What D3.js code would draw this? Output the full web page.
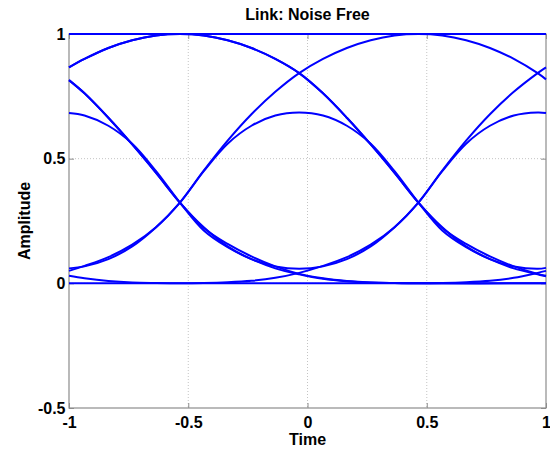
<!DOCTYPE html>
<html>
<head>
<meta charset="utf-8">
<script src="https://cdn.jsdelivr.net/npm/d3@7"></script>
<style>
  html, body { margin: 0; padding: 0; background: #fff; }
  svg { display: block; }
  text { font-family: "Liberation Sans", Arial, Helvetica, sans-serif; font-weight: bold; fill: #000; }
</style>
</head>
<body>
<div id="chart"></div>
<script>
// ---------- data ----------
const title = "Link: Noise Free";
const xLabel = "Time";
const yLabel = "Amplitude";
const timeDomain = [-1, 1];
const ampDomain = [-0.5, 1];
const xTicks = [-1, -0.5, 0, 0.5, 1];
const xTickLabels = ["-1", "-0.5", "0", "0.5", "1"];
const yTicks = [-0.5, 0, 0.5, 1];
const yTickLabels = ["-0.5", "0", "0.5", "1"];
const xGrid = [-0.5, 0, 0.5];
const yGrid = [0, 0.5];

// each trace: [time, amplitude]
const traceHigh = [[-1, 1], [1, 1]];
const traceLow = [[-1, 0], [1, 0]];
const traceArcA = [[-1,0.866],[-0.935,0.9],[-0.835,0.944],[-0.735,0.975],[-0.635,0.994],[-0.535,1.0],[-0.435,0.994],[-0.335,0.975],[-0.235,0.944],[-0.135,0.9],[-0.035,0.843],[0.065,0.762],[0.165,0.664],[0.265,0.557],[0.365,0.443],[0.465,0.324],[0.565,0.222],[0.665,0.158],[0.765,0.108],[0.865,0.068],[0.965,0.038],[1,0.03]];
const traceArcA2 = [[-1,0.866],[-0.935,0.9],[-0.835,0.944],[-0.735,0.975],[-0.635,0.994],[-0.535,1.0],[-0.435,0.994],[-0.335,0.975],[-0.235,0.944],[-0.135,0.9],[-0.035,0.843],[0.065,0.762],[0.165,0.664],[0.265,0.557],[0.365,0.443],[0.465,0.324],[0.565,0.225],[0.665,0.148],[0.765,0.097],[0.865,0.068],[0.965,0.058],[1,0.062]];
const traceArcB = [[-1,0.05],[-0.935,0.07],[-0.835,0.105],[-0.735,0.155],[-0.635,0.225],[-0.535,0.324],[-0.435,0.452],[-0.335,0.572],[-0.235,0.678],[-0.135,0.768],[-0.035,0.843],[0.065,0.9],[0.165,0.944],[0.265,0.975],[0.365,0.994],[0.465,1.0],[0.565,0.994],[0.665,0.975],[0.765,0.944],[0.865,0.9],[0.965,0.843],[1,0.818]];
const traceHump = [[-1,0.06],[-0.935,0.068],[-0.835,0.097],[-0.735,0.148],[-0.635,0.225],[-0.535,0.324],[-0.435,0.45],[-0.335,0.56],[-0.235,0.632],[-0.135,0.673],[-0.035,0.685],[0.065,0.673],[0.165,0.632],[0.265,0.56],[0.365,0.45],[0.465,0.324],[0.565,0.212],[0.665,0.145],[0.765,0.097],[0.865,0.06],[0.965,0.036],[1,0.028]];
const traceCup = [[-1,0.815],[-0.935,0.762],[-0.835,0.664],[-0.735,0.557],[-0.635,0.443],[-0.535,0.324],[-0.435,0.225],[-0.335,0.148],[-0.235,0.097],[-0.135,0.068],[-0.035,0.058],[0.065,0.068],[0.165,0.097],[0.265,0.148],[0.365,0.225],[0.465,0.324],[0.565,0.452],[0.665,0.572],[0.765,0.678],[0.865,0.768],[0.965,0.843],[1,0.866]];
const traceHumpFall = [[-1,0.683],[-0.935,0.673],[-0.835,0.632],[-0.735,0.56],[-0.635,0.45],[-0.535,0.324],[-0.435,0.212],[-0.335,0.145],[-0.235,0.097],[-0.135,0.06],[-0.035,0.036],[0.065,0.018],[0.165,0.008],[0.265,0.003],[0.365,0.001],[0.465,0],[0.565,0.001],[0.665,0.004],[0.765,0.01],[0.865,0.022],[0.965,0.042],[1,0.05]];
const traceTailRise = [[-1,0.03],[-0.935,0.02],[-0.835,0.009],[-0.735,0.003],[-0.635,0.001],[-0.535,0],[-0.435,0.001],[-0.335,0.004],[-0.235,0.01],[-0.135,0.022],[-0.035,0.042],[0.065,0.07],[0.165,0.105],[0.265,0.155],[0.365,0.225],[0.465,0.324],[0.565,0.45],[0.665,0.56],[0.765,0.632],[0.865,0.673],[0.965,0.685],[1,0.683]];
const traceArcTail = [[-1,0.815],[-0.935,0.762],[-0.835,0.664],[-0.735,0.557],[-0.635,0.443],[-0.535,0.324],[-0.435,0.222],[-0.335,0.158],[-0.235,0.108],[-0.135,0.068],[-0.035,0.038],[0.065,0.02],[0.165,0.009],[0.265,0.003],[0.365,0.001],[0.465,0],[1,0]];

const traces = [traceLow, traceHumpFall, traceTailRise, traceArcTail, traceHump, traceCup, traceArcA, traceArcA2, traceArcB, traceHigh];

// ---------- layout ----------
const W = 550, H = 458;
const plot = { left: 69, right: 546, top: 34, bottom: 408 };
const lineColor = "#0000ff";
const axisColor = "#8c8c8c";

const svg = d3.select("#chart").append("svg").attr("width", W).attr("height", H);

const x = d3.scaleLinear().domain(timeDomain).range([plot.left, plot.right]);
const y = d3.scaleLinear().domain(ampDomain).range([plot.bottom, plot.top]);

// grid
const grid = svg.append("g");
grid.selectAll("line.gx").data(xGrid).join("line")
  .attr("x1", d => x(d)).attr("x2", d => x(d))
  .attr("y1", plot.top).attr("y2", plot.bottom)
  .attr("stroke", "#c4c4c4").attr("stroke-width", 1).attr("stroke-dasharray", "1,2");
grid.selectAll("line.gy").data(yGrid).join("line")
  .attr("y1", d => y(d)).attr("y2", d => y(d))
  .attr("x1", plot.left).attr("x2", plot.right)
  .attr("stroke", "#c4c4c4").attr("stroke-width", 1).attr("stroke-dasharray", "1,2");

// axes
function styleAxis(g) {
  g.select(".domain").remove();
  g.selectAll(".tick line").attr("stroke", axisColor).attr("stroke-width", 1);
  g.selectAll(".tick text").style("font-size", "16px").attr("fill", "#000");
}
const fmtX = d => xTickLabels[xTicks.indexOf(d)];
const fmtY = d => yTickLabels[yTicks.indexOf(d)];

svg.append("g").attr("transform", `translate(0,${plot.bottom})`)
  .call(d3.axisBottom(x).tickValues(xTicks).tickFormat(fmtX).tickSizeInner(-5).tickSizeOuter(0).tickPadding(8.5))
  .call(styleAxis);
svg.append("g").attr("transform", `translate(0,${plot.top})`)
  .call(d3.axisTop(x).tickValues(xTicks).tickFormat("").tickSizeInner(-5).tickSizeOuter(0))
  .call(styleAxis);
svg.append("g").attr("transform", `translate(${plot.left},0)`)
  .call(d3.axisLeft(y).tickValues(yTicks).tickFormat(fmtY).tickSizeInner(-5).tickSizeOuter(0).tickPadding(3.5))
  .call(styleAxis);
svg.append("g").attr("transform", `translate(${plot.right},0)`)
  .call(d3.axisRight(y).tickValues(yTicks).tickFormat("").tickSizeInner(-5).tickSizeOuter(0))
  .call(styleAxis);

// box
svg.append("rect")
  .attr("x", plot.left).attr("y", plot.top)
  .attr("width", plot.right - plot.left).attr("height", plot.bottom - plot.top)
  .attr("fill", "none").attr("stroke", axisColor).attr("stroke-width", 1.2);

// traces
const line = d3.line().x(d => x(d[0])).y(d => y(d[1])).curve(d3.curveCatmullRom.alpha(0.5));
svg.append("g").selectAll("path").data(traces).join("path")
  .attr("d", line)
  .attr("fill", "none")
  .attr("stroke", lineColor)
  .attr("stroke-width", 2)
  .attr("stroke-linejoin", "round");

// texts
svg.append("text").attr("x", (plot.left + plot.right) / 2).attr("y", 20)
  .attr("text-anchor", "middle").style("font-size", "16px").text(title);
svg.append("text").attr("x", (plot.left + plot.right) / 2).attr("y", 445)
  .attr("text-anchor", "middle").style("font-size", "16px").text(xLabel);
svg.append("text")
  .attr("transform", `translate(30,${(plot.top + plot.bottom) / 2}) rotate(-90)`)
  .attr("text-anchor", "middle").style("font-size", "16px").text(yLabel);
</script>
</body>
</html>
